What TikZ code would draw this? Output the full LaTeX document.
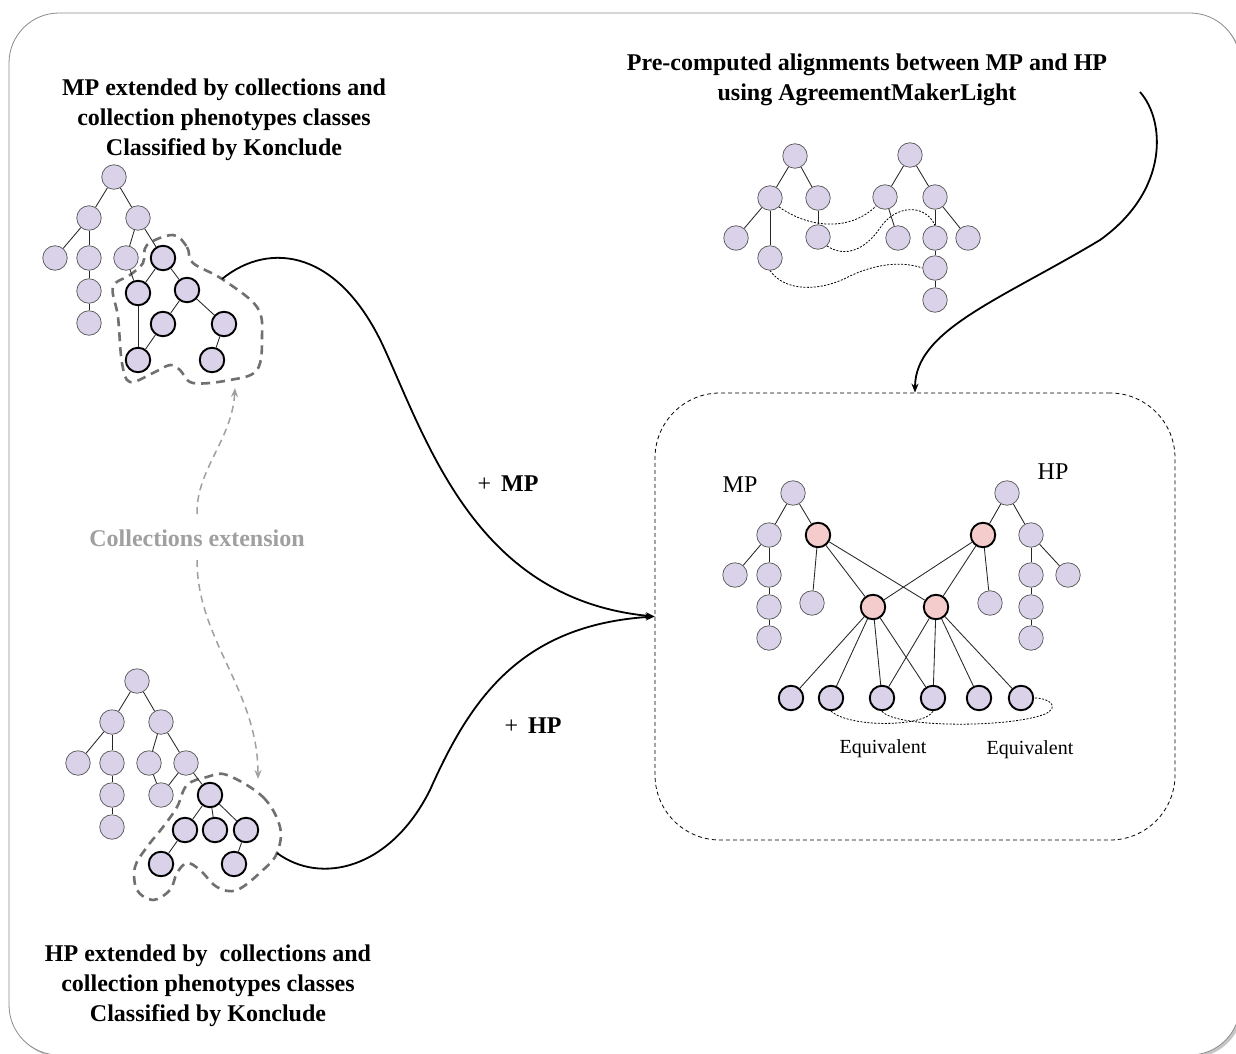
\documentclass[tikz,border=0pt]{standalone}
\usepackage{fontspec}
\setmainfont{Liberation Serif}
\usetikzlibrary{shadows,arrows.meta}
\definecolor{nfill}{HTML}{D9D2E9}
\definecolor{pfill}{HTML}{F4CCCC}
\definecolor{nborder}{HTML}{555555}
\definecolor{blobgray}{HTML}{707070}
\definecolor{extgray}{HTML}{A0A0A0}
\definecolor{framegray}{HTML}{8A8A8A}
\tikzset{
 cn/.style={circle, fill=nfill, draw=nborder, line width=0.7pt, minimum size=24.5pt, inner sep=0pt},
 bn/.style={cn, draw=black, line width=1.9pt},
 pn/.style={bn, fill=pfill},
 edge/.style={line width=0.85pt, draw=black!85},
 blob/.style={draw=blobgray, line width=2.6pt, dash pattern=on 9pt off 6pt},
 flow/.style={line width=1.8pt, -{Stealth[length=9pt,width=7pt]}},
 ext/.style={draw=extgray, line width=1.5pt, dash pattern=on 7pt off 5pt, -{Stealth[length=9pt,width=7pt]}, extgray},
 alignl/.style={line width=0.8pt, dash pattern=on 2pt off 1.5pt},
 title/.style={font=\fontsize{24}{30}\selectfont\bfseries, align=center},
 plain/.style={font=\fontsize{#1}{#1}\selectfont},
}
\begin{document}
\begin{tikzpicture}[x=1pt,y=-1pt]
\useasboundingbox (0,0) rectangle (1236,1054);
\draw[framegray, line width=0.8pt, fill=white, rounded corners=50pt,
  drop shadow={shadow xshift=2.5pt, shadow yshift=-2.5pt, opacity=0.45}] (9,13) rectangle (1240,1055);

% titles
\node[title] (t1) at (224,120) {MP extended by collections and\\collection phenotypes classes\\Classified by Konclude};
\node[title] (t2) at (208,986) {HP extended by\ \ collections and\\collection phenotypes classes\\Classified by Konclude};
\node[title] (t3) at (867,80) {Pre-computed alignments between MP and HP\\using AgreementMakerLight};
\node[title, text=extgray] (ce) at (197,538) {Collections extension};
\node[plain=24] (pmp) at (508,484) {+\hspace{10pt}\textbf{MP}};
\node[plain=24] (php) at (533,726) {+\hspace{10pt}\textbf{HP}};

% ---------- top-left tree ----------
\draw[blob] plot[smooth cycle, tension=0.6] coordinates {
 (173,235) (187,247) (193,263) (222,279) (257,307) (262,337) (257,370) (230,380)
 (193,383) (180,370) (170,365) (153,373) (130,382) (122,363) (118,317) (113,287)
 (130,275) (143,263) (147,245)};
\node[cn] (a0) at (114,177) {};
\node[cn] (a1) at (89,218) {};
\node[cn] (a2) at (138,218) {};
\node[cn] (a3) at (55,258) {};
\node[cn] (a4) at (89,258) {};
\node[cn] (a5) at (126,258) {};
\node[bn] (a6) at (163,258) {};
\node[cn] (a7) at (89,291) {};
\node[cn] (a8) at (89,323) {};
\node[bn] (a9) at (138,293) {};
\node[bn] (a10) at (187,290) {};
\node[bn] (a11) at (163,324) {};
\node[bn] (a12) at (224,324) {};
\node[bn] (a13) at (138,360) {};
\node[bn] (a14) at (212,360) {};
\foreach \p/\c in {a0/a1,a0/a2,a1/a3,a1/a4,a4/a7,a7/a8,a2/a5,a2/a6,a5/a9,a6/a9,a6/a10,a10/a11,a10/a12,a9/a13,a11/a13,a12/a14}
  \draw[edge] (\p) -- (\c);

% ---------- bottom-left tree ----------
\draw[blob] plot[smooth cycle, tension=0.6] coordinates {
 (227,775) (263,797) (280,827) (277,853) (263,870) (237,890) (217,887) (200,870)
 (187,863) (177,873) (170,890) (153,900) (137,890) (135,867) (147,847) (163,827)
 (177,807) (187,785) (207,777)};
\node[cn] (b0) at (137,681) {};
\node[cn] (b1) at (112,722) {};
\node[cn] (b2) at (161,722) {};
\node[cn] (b3) at (78,763) {};
\node[cn] (b4) at (112,763) {};
\node[cn] (b5) at (149,763) {};
\node[cn] (b6) at (186,763) {};
\node[cn] (b7) at (112,795) {};
\node[cn] (b8) at (112,827) {};
\node[cn] (b9) at (161,795) {};
\node[bn] (b10) at (210,795) {};
\node[bn] (b11) at (185,830) {};
\node[bn] (b12) at (215,830) {};
\node[bn] (b13) at (246,830) {};
\node[bn] (b14) at (161,864) {};
\node[bn] (b15) at (234,864) {};
\foreach \p/\c in {b0/b1,b0/b2,b1/b3,b1/b4,b4/b7,b7/b8,b2/b5,b2/b6,b5/b9,b6/b9,b6/b10,b10/b11,b10/b12,b10/b13,b11/b14,b13/b15}
  \draw[edge] (\p) -- (\c);

% ---------- top-right trees ----------
\node[cn] (c0) at (795,156) {};
\node[cn] (c1) at (770,198) {};
\node[cn] (c2) at (818,198) {};
\node[cn] (c3) at (736,238) {};
\node[cn] (c4) at (770,258) {};
\node[cn] (c5) at (818,237) {};
\node[cn] (d0) at (910,155) {};
\node[cn] (d1) at (885,197) {};
\node[cn] (d2) at (935,197) {};
\node[cn] (d3) at (898,238) {};
\node[cn] (d4) at (935,238) {};
\node[cn] (d5) at (968,238) {};
\node[cn] (d6) at (935,268) {};
\node[cn] (d7) at (935,300) {};
\foreach \p/\c in {c0/c1,c0/c2,c1/c3,c1/c4,c2/c5,d0/d1,d0/d2,d1/d3,d2/d4,d2/d5,d4/d6,d6/d7}
  \draw[edge] (\p) -- (\c);
\draw[alignl] (c1.south east) .. controls (812,230) and (852,230) .. (d1.south west);
\draw[alignl] (c5.south east) .. controls (845,258) and (865,250) .. (880,228) .. controls (895,205) and (925,203) .. (d4.north);
\draw[alignl] (c4.south) .. controls (785,292) and (820,292) .. (850,276) .. controls (880,262) and (905,262) .. (d6.west);

% ---------- result box ----------
\node[draw, dash pattern=on 4pt off 3pt, line width=0.8pt, rounded corners=65pt,
  minimum width=520pt, minimum height=447pt] (box) at (915,616.5) {};
\node[plain=24] (lmp) at (740,485) {MP};
\node[plain=24] (lhp) at (1053,472) {HP};
\node[cn] (e0) at (793,493) {};
\node[cn] (e1) at (769,535) {};
\node[pn] (e2) at (818,535) {};
\node[cn] (e3) at (735,575) {};
\node[cn] (e4) at (769,575) {};
\node[cn] (e5) at (812,603) {};
\node[cn] (e6) at (769,607) {};
\node[cn] (e7) at (769,638) {};
\node[cn] (f0) at (1007,493) {};
\node[pn] (f1) at (983,535) {};
\node[cn] (f2) at (1031,535) {};
\node[cn] (f3) at (990,603) {};
\node[cn] (f4) at (1031,575) {};
\node[cn] (f5) at (1068,575) {};
\node[cn] (f6) at (1031,607) {};
\node[cn] (f7) at (1031,638) {};
\node[pn] (m1) at (873,607) {};
\node[pn] (m2) at (936,607) {};
\node[bn] (g1) at (791,698) {};
\node[bn] (g2) at (831,698) {};
\node[bn] (g3) at (882,698) {};
\node[bn] (g4) at (933,698) {};
\node[bn] (g5) at (979,698) {};
\node[bn] (g6) at (1021,698) {};
\foreach \p/\c in {e0/e1,e0/e2,e1/e3,e1/e4,e4/e6,e6/e7,e2/e5,e2/m1,e2/m2,
  f0/f1,f0/f2,f1/f3,f1/m1,f1/m2,f2/f4,f2/f5,f4/f6,f6/f7,
  m1/g1,m1/g2,m1/g3,m1/g4,m2/g3,m2/g4,m2/g5,m2/g6}
  \draw[edge] (\p) -- (\c);
\draw[alignl] (g2.south) .. controls (850,728) and (925,727) .. (g4.south);
\draw[alignl] (g3.south) .. controls (895,728) and (1010,728) .. (1045,714) .. controls (1060,707) and (1050,698) .. (g6.east);
\node[plain=20] (eq1) at (883,749) {Equivalent};
\node[plain=20] (eq2) at (1030,750) {Equivalent};

% ---------- connectors ----------
\coordinate (s1) at (222,279);
\coordinate (s2) at (277,853);
\coordinate (s3) at (1140,92);
\draw[flow] (s1) .. controls (270,240) and (340,250) .. (385,350) .. controls (430,450) and (480,600) .. (box.west);
\draw[flow] (s2) .. controls (320,885) and (390,870) .. (430,790) .. controls (470,700) and (520,625) .. (box.west);
\draw[flow] (s3) .. controls (1165,120) and (1170,190) .. (1100,240) .. controls (1000,300) and (915,330) .. (box.north);
\coordinate (x1) at (197,514);
\coordinate (x2) at (235,388);
\coordinate (x3) at (197,560);
\coordinate (x4) at (258,779);
\draw[ext] (x1) .. controls (196,470) and (232,440) .. (x2);
\draw[ext] (x3) .. controls (197,640) and (258,690) .. (x4);
\end{tikzpicture}
\end{document}
